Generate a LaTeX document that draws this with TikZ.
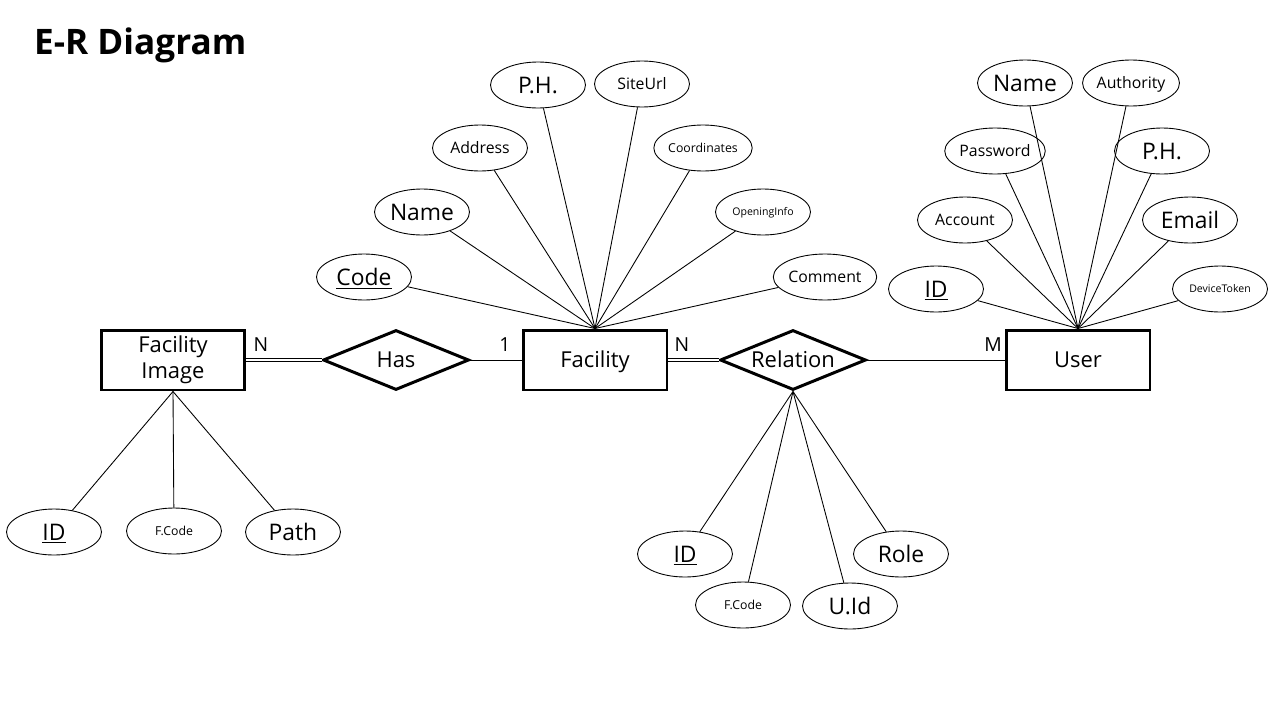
\documentclass[tikz,border=0pt]{standalone}
\usepackage{fontspec}
\setmainfont{Open Sans}
\usetikzlibrary{shapes.geometric}

\tikzset{
  capbox/.style={text height=#1, text depth=0pt},
  entity/.style={draw, line width=1.7pt, minimum width=2.88cm, minimum height=1.2cm, inner sep=0pt, align=center, font=\fontsize{12.5}{14.5}\selectfont},
  relation/.style={draw, diamond, line width=1.7pt, minimum width=2.92cm, minimum height=1.2cm, inner sep=0pt, label={[font=\fontsize{12.5}{13}\selectfont, capbox=9pt]center:#1}},
  attr/.style={draw, ellipse, line width=0.5pt, minimum width=1.9cm, minimum height=0.92cm, inner sep=0pt},
  big/.style={font=\fontsize{13}{14}\selectfont, capbox=9.4pt},
  mid/.style={font=\fontsize{9}{10}\selectfont, capbox=6.5pt},
  small/.style={font=\fontsize{7}{8}\selectfont, capbox=5pt},
  tiny/.style={font=\fontsize{6}{7}\selectfont, capbox=4.3pt},
  card/.style={font=\fontsize{11}{12}\selectfont},
  link/.style={line width=0.5pt},
  dbl/.style={double, double distance=1.2pt, line width=0.4pt}
}

\begin{document}
\begin{tikzpicture}[x=0.02cm,y=-0.02cm]

\useasboundingbox (0,0) rectangle (1280,720);

\node[anchor=west, font=\fontsize{20}{22}\selectfont\bfseries] (title) at (28,45) {E-R Diagram};

\node[entity] (fimg) at (173,360) {Facility\\Image};
\node[relation=Has] (has) at (396,360) {};
\node[entity, capbox=9pt] (fac) at (595,360) {Facility};
\node[relation=Relation] (rel) at (793,360) {};
\node[entity, capbox=9pt] (user) at (1078,360) {User};

\node[card] (c1) at (261,345) {N};
\node[card] (c2) at (505,345) {1};
\node[card] (c3) at (682,345) {N};
\node[card] (c4) at (993,345) {M};

\draw [dbl] (fimg.east) -- (has.west);
\draw [link] (has.east) -- (fac.west);
\draw [dbl] (fac.east) -- (rel.west);
\draw [link] (rel.east) -- (user.west);

% facility attributes
\node[attr, big] (fcode) at (364,277) {\underline{Code}};
\node[attr, big] (fname) at (422,212) {Name};
\node[attr, mid] (faddr) at (480,148) {Address};
\node[attr, big] (fph) at (538,85) {P.H.};
\node[attr, mid] (fsite) at (642,84) {SiteUrl};
\node[attr, small] (fcoord) at (703,148) {Coordinates};
\node[attr, tiny] (fopen) at (763,212) {OpeningInfo};
\node[attr, mid] (fcomm) at (825,277) {Comment};

\foreach \a in {fcode,fname,faddr,fph,fsite,fcoord,fopen,fcomm}
  \draw [link] (fac.north) -- (\a);

% user attributes
\node[attr, big] (uid) at (936,289) {\underline{ID}};
\node[attr, mid] (uacc) at (965,220) {Account};
\node[attr, mid] (upw) at (995,151) {Password};
\node[attr, big] (uname) at (1025,83) {Name};
\node[attr, mid] (uauth) at (1131,83) {Authority};
\node[attr, big] (uph) at (1162,151) {P.H.};
\node[attr, big] (umail) at (1190,220) {Email};
\node[attr, tiny] (utok) at (1220,289) {DeviceToken};

\foreach \a in {uid,uacc,upw,uname,uauth,uph,umail,utok}
  \draw [link] (user.north) -- (\a);

% facility image attributes
\node[attr, big] (iid) at (54,532) {\underline{ID}};
\node[attr, small] (icode) at (174,531) {F.Code};
\node[attr, big] (ipath) at (293,532) {Path};

\foreach \a in {iid,icode,ipath}
  \draw [link] (fimg.south) -- (\a);

% relation attributes
\node[attr, big] (rid) at (685,554) {\underline{ID}};
\node[attr, small] (rcode) at (743,605) {F.Code};
\node[attr, big] (ruid) at (850,606) {U.Id};
\node[attr, big] (rrole) at (901,554) {Role};

\foreach \a in {rid,rcode,ruid,rrole}
  \draw [link] (rel.south) -- (\a);

\end{tikzpicture}
\end{document}
